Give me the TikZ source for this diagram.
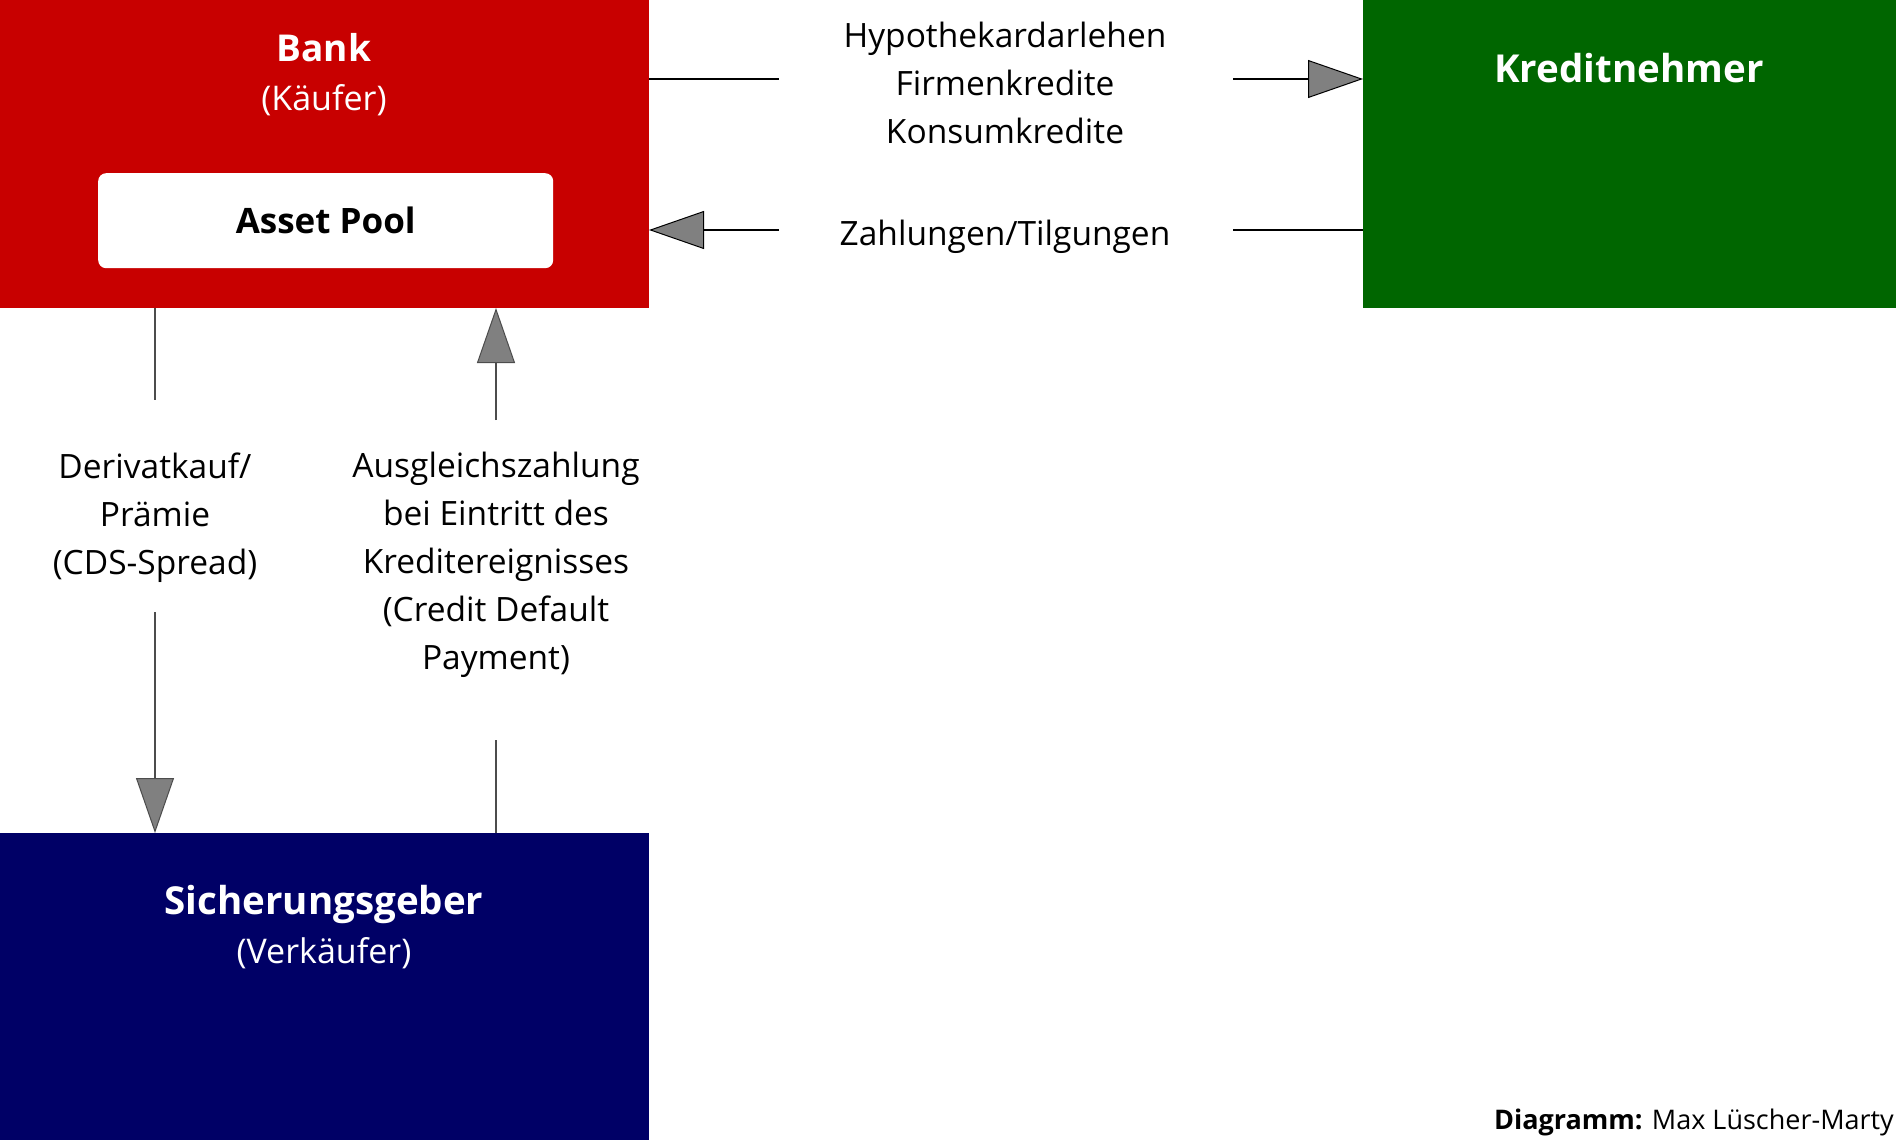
\documentclass[tikz,border=0pt]{standalone}
\usepackage{fontspec}
\setmainfont{Open Sans}
\usetikzlibrary{arrows.meta}
\definecolor{bankred}{RGB}{200,0,0}
\definecolor{kgreen}{RGB}{0,102,0}
\definecolor{sblue}{RGB}{0,0,102}
\definecolor{tipgray}{RGB}{128,128,128}
\tikzset{
  box/.style={draw=none, inner sep=0pt, anchor=north west},
  lbl/.style={align=center, inner sep=0pt, font=\fontsize{33.5}{48}\selectfont},
  title/.style={align=center, inner sep=0pt, text=white, font=\fontsize{34}{49}\selectfont},
  conn/.style={line width=1.2pt, draw=black},
  tipconn/.style={conn, -{Triangle[length=55pt,width=38pt,fill=tipgray,line width=1pt]}},
}
\begin{document}
\begin{tikzpicture}[x=1pt,y=1pt]
\useasboundingbox (0,0) rectangle (1896,-1140);
% boxes
\node[box, fill=bankred, minimum width=649pt, minimum height=308pt] (bank) at (0,0) {};
\node[box, fill=kgreen, minimum width=533pt, minimum height=308pt] (kredit) at (1363,0) {};
\node[box, fill=sblue, minimum width=649pt, minimum height=307pt] (sicher) at (0,-833) {};
\node[box, fill=white, rounded corners=8pt, minimum width=455pt, minimum height=95pt] (pool) at (98,-173) {};
% titles
\node[title] (banktxt) at (324,-75) {{\fontsize{37}{49}\selectfont\bfseries Bank}\\(Käufer)};
\node[inner sep=0pt, font=\fontsize{35}{42}\selectfont\bfseries] (pooltxt) at (pool.center) {Asset Pool};
\node[inner sep=0pt, text=white, font=\fontsize{38.5}{42}\selectfont\bfseries] (kredittxt) at (1629,-68) {Kreditnehmer};
\node[title] (sichertxt) at (324,-927) {{\fontsize{38.5}{49}\selectfont\bfseries Sicherungsgeber}\\(Verkäufer)};
% labels
\node[lbl] (l1) at (1005,-83) {Hypothekardarlehen\\Firmenkredite\\Konsumkredite};
\node[lbl] (l2) at (1005,-237) {Zahlungen/Tilgungen};
\node[lbl] (l3) at (155,-518) {Derivatkauf/\\Prämie\\(CDS-Spread)};
\node[lbl] (l4) at (496,-565) {Ausgleichszahlung\\bei Eintritt des\\Kreditereignisses\\(Credit Default\\Payment)};
\node[inner sep=0pt, anchor=east, font=\fontsize{27}{34}\selectfont] (credit) at (1894,-1122) {\textbf{Diagramm:} Max Lüscher-Marty};
% connector end points
\coordinate (a1s) at (649,-79);
\coordinate (a1m) at (779,-79);
\coordinate (a1n) at (1233,-79);
\coordinate (a1e) at (1363,-79);
\coordinate (a2s) at (1363,-230);
\coordinate (a2n) at (1233,-230);
\coordinate (a2m) at (779,-230);
\coordinate (a2e) at (649,-230);
\coordinate (a3s) at (155,-308);
\coordinate (a3m) at (155,-400);
\coordinate (a3n) at (155,-612);
\coordinate (a3e) at (155,-833);
\coordinate (a4s) at (496,-833);
\coordinate (a4m) at (496,-740);
\coordinate (a4n) at (496,-420);
\coordinate (a4e) at (496,-308);
% connectors
\draw[conn] (a1s) -- (a1m);
\draw[tipconn] (a1n) -- (a1e);
\draw[conn] (a2s) -- (a2n);
\draw[tipconn] (a2m) -- (a2e);
\draw[conn, draw=black!70] (a3s) -- (a3m);
\draw[tipconn, draw=black!70] (a3n) -- (a3e);
\draw[conn, draw=black!70] (a4s) -- (a4m);
\draw[tipconn, draw=black!70] (a4n) -- (a4e);
\end{tikzpicture}
\end{document}
